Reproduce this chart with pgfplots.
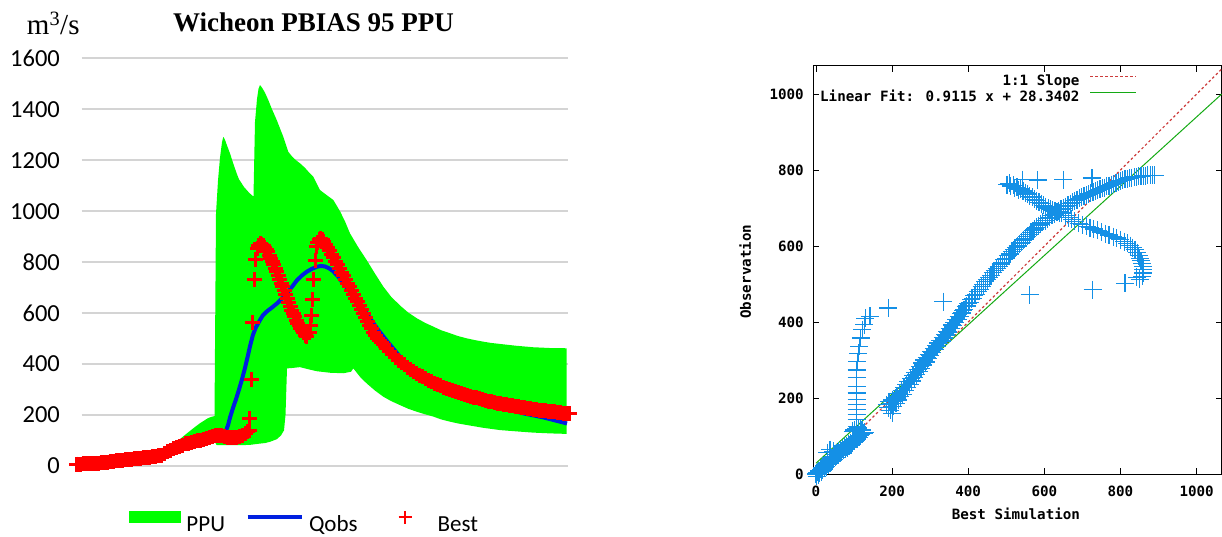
\documentclass[border=0pt]{standalone}
\usepackage{pgfplots}
\pgfplotsset{compat=1.18}
\usepackage{pgfplotstable}
\usepackage{fontspec}
\setmainfont{Carlito}
\newfontfamily\titlefont{Liberation Serif}
\newfontfamily\gmono{DejaVu Sans Mono}
\newcommand\gfont{\gmono\bfseries\fontsize{14.2pt}{16pt}\selectfont}
\definecolor{pgreen}{RGB}{0,255,0}
\definecolor{qblue}{RGB}{0,32,224}
\definecolor{bred}{RGB}{255,0,0}
\definecolor{sblue}{RGB}{20,144,230}
\definecolor{slred}{RGB}{205,60,60}
\definecolor{fitgreen}{RGB}{20,170,20}

% PPU band: upper edge left to right, then lower edge right to left
\pgfplotstableread{
x y
81.7 5
100 10
120 20
143 32
150 40
160 56
168 78
176.7 95
185 122
193.3 148
200 168
203.3 176
208 188
211.7 193
214.5 196
216 990
218 1120
220 1210
222 1270
223.3 1292
225 1280
227 1258
230 1227
233 1190
236.7 1148
239 1125
241.7 1109
244 1095
246.7 1083
249 1073
251.7 1063
253.5 1058
255 1350
257 1440
258.5 1480
260 1495
262 1485
265 1465
268.3 1436
272 1400
276.7 1358
280 1325
283.3 1292
288.3 1233
292 1215
296 1200
300 1188
305 1170
310 1148
313.3 1135
316.7 1109
320 1083
326 1065
333.3 1044
340 1000
345 960
350 913
358 860
366.7 808
375 755
383.3 704
391 665
400 630
408 603
416.7 580
425 562
433.3 547
441 533
450 521
458 510
466.7 501
475 494
483.3 488
491 483
500 479
516 472
533.3 466
550 463
566.7 462
566.7 126
550 128
533.3 131
516 136
500 141
483 150
466.7 161
458 167
450 174
441 183
433.3 194
425 203
416.7 213
408 225
400 239
391 255
383.3 272
375 296
366.7 324
360 350
355 375
353.3 383
351 370
343.3 364
330 366
316.7 372
308 380
300 388
293 385
287 383
285.5 200
284 140
281 120
276.7 105
270 95
265 90
260 88
250 83
243 82
230 82
216.7 82
214 100
210 108
205 102
200 93
193 85
186 76
180 64
173 52
166 43
160 36
150 30
140 25
130 20
120 16
110 12
100 7
90 3
81.7 0
}\ppu

\pgfplotstableread{
x y
81.7 6
90 7
100 10
110 16
120 21
130 26
140 31
150 35
160 40
165 50
170 62
175 72
180 79
185 86
190 93
195 98
200 102
205 107
210 113
215 118
220 122
225 128
228 160
230 190
233 228
236 262
239 300
242 340
245 385
248 435
250 470
253 515
256 545
260 573
263 592
267 607
272 622
277 638
282 657
287 679
292 703
297 729
302 748
307 763
312 774
317 782
321 785
325 783
329 776
333 765
338 744
343 718
348 695
353 670
358 645
363 620
368 592
373 563
378 535
383 510
388 485
393 462
398 438
403 412
408 392
413 376
418 362
423 350
428 338
433 327
438 317
443 308
448 300
453 292
458 285
463 278
468 271
473 265
478 259
483 253
488 247
493 241
498 235
503 228
508 222
513 217
518 212
523 207
528 203
533 199
538 195
543 191
548 186
553 181
558 176
563 171
567 167
}\qobs

\pgfplotstableread{
x y
77 7
80 7
83 8
86 8
89 9
92 9
95 10
98 11
101 12
104 13
107 15
110 18
113 19
116 20
119 21
122 22
125 24
128 25
131 27
134 28
137 30
140 31
143 33
146 34
149 35
152 36
155 38
158 40
161 43
164 48
167 55
170 62
173 68
176 74
179 78
182 82
185 87
188 90
191 94
194 97
197 100
200 102
203 105
206 108
209 112
212 116
215 119
218 121
221 120
224 117
227 112
230 110
233 110
236 111
239 114
242 118
245 126
247 134
249 141
249.5 187
251 340
252.7 562
254.3 733
255.3 812
257 855
258.5 867
260 872
261.5 870
263 864
264.5 858
266 850
267.5 840
269 828
270.5 815
272 802
273.5 790
275 776
276.5 762
278 746
279.5 733
281 718
282.5 703
284 688
285.5 672
287 657
288.5 642
290 627
291.5 612
293 598
294.5 585
296 572
297.5 560
299 550
300.5 540
302 530
303.5 522
305 514
306.5 508
309 525
310.7 553
311.7 590
312.3 654
313.3 733
315 805
316 861
317.5 878
319 888
320.5 893
322 889
323.5 880
325 871
327 858
329 845
331 831
333 817
335 803
337 789
339 775
341 761
343 747
345 733
347 718
349 703
351 688
353 673
355 659
357 646
359 630
361 614
363 598
365 583
367 568
369 553
371 539
373 525
375 513
377 502
379 491
381 483
383 475
386 462
389 449
392 437
395 426
398 416
401 406
404 397
407 388
410 380
413 372
416 364
419 357
422 350
425 343
428 337
431 331
434 325
437 320
440 315
443 310
446 305
449 300
452 296
455 292
458 288
461 284
464 280
467 276
470 273
473 270
476 267
479 264
482 261
485 258
488 255
491 252
494 250
497 247
500 245
503 243
506 241
509 239
512 237
515 235
518 233
521 231
524 229
527 227
530 225
533 223
536 221
539 219
542 218
545 216
548 215
551 213
554 212
557 211
560 210
563 208
566 207
569 205
}\best

\pgfplotstableread{
x y
0 0
2 -6
4 4
6 -2
8 8
10 3
12 12
14 6
16 16
18 10
20 20
22 15
25 25
27 19
30 30
32 24
35 36
37 29
40 42
42 34
45 46
47 39
50 52
52 44
55 56
57 49
60 60
62 54
65 63
67 58
70 66
72 62
75 70
77 65
80 74
82 69
85 78
87 73
90 82
92 77
95 86
97 82
100 90
102 86
105 94
108 92
110 98
113 97
116 101
119 104
122 106
125 108
128 110
96 112
101 116
106 120
111 121
116 118
121 116
30 56
37 64
45 60
107 125
107 143
107 156
107 169
107 182
107 196
107 213
107 231
107 253
107 274
109 296
111 318
114 336
118 358
122 380
127 393
130 410
142 415
190 437
334 454
186 182
190 175
192 190
195 168
198 185
200 160
200 195
203 178
205 192
208 200
210 186
213 205
216 195
219 212
222 203
225 220
228 210
231 228
234 220
237 236
240 228
243 244
246 236
249 252
252 245
255 260
258 253
261 268
264 261
267 276
270 270
273 284
276 278
279 292
282 287
285 300
288 295
291 307
294 303
297 315
300 311
303 323
306 319
309 330
312 327
315 338
318 335
321 345
324 343
327 352
330 350
333 360
336 358
339 368
342 366
345 376
348 374
351 384
354 382
357 392
360 391
363 399
366 399
369 407
372 407
375 415
378 415
381 423
384 424
387 431
390 433
393 440
396 442
400 449
404 452
408 460
412 462
416 470
420 473
425 481
430 486
435 494
440 498
445 506
450 511
455 518
460 523
465 530
470 535
475 542
480 546
485 553
490 557
495 564
500 568
505 575
510 579
515 586
520 590
525 596
530 600
535 606
540 610
545 616
550 620
555 626
560 630
565 636
570 640
575 645
580 649
585 654
590 658
596 663
602 667
608 672
614 676
620 681
626 684
632 689
638 692
644 697
650 699
656 704
662 707
668 712
674 715
680 719
686 722
692 726
698 729
704 732
710 734
716 737
722 739
728 742
734 744
740 747
746 749
752 752
758 754
764 757
770 759
776 762
782 764
788 767
794 769
800 772
806 773
812 776
818 777
824 779
830 780
836 782
842 782
848 784
854 784
860 785
866 785
872 786
878 786
884 786
890 786
502 762
508 765
512 758
518 760
522 752
528 755
532 748
538 750
544 745
550 740
556 737
562 731
568 729
574 723
580 719
586 715
592 712
598 707
604 703
610 700
616 697
622 694
628 692
634 690
640 688
646 687
656 680
664 675
672 670
680 665
690 660
700 656
711 652
720 648
730 645
740 641
750 637
760 633
770 629
781 625
790 621
800 617
810 612
818 607
826 601
832 596
838 590
844 583
848 575
851 568
854 561
857 554
859 546
860 538
860 529
857 520
850 512
542 775
583 774
650 775
725 779
562 472
727 485
812 502
843 518
}\scat

\begin{document}
\begin{tikzpicture}
\path[use as bounding box] (0pt,0pt) rectangle (1222pt,536pt);

% ---------------- left chart ----------------
\begin{axis}[
  at={(81.7pt,70pt)}, anchor=south west,
  scale only axis, width=486.6pt, height=407.7pt,
  xmin=81.7, xmax=568.3, ymin=0, ymax=1600,
  clip=false,
  axis line style={draw=none},
  xtick=\empty,
  ytick={0,200,...,1600},
  ymajorgrids,
  major grid style={draw=black!17, line width=2pt},
  major tick length=0pt,
  /pgf/number format/assume math mode=true,
  /pgf/number format/1000 sep={},
  yticklabel style={font=\fontsize{24.5pt}{26pt}\selectfont, inner sep=0pt, xshift=-21.6pt},
  legend columns=3,
  legend style={at={(axis description cs:0.0972,-0.1374)}, anchor=west,
    draw=none, fill=none, inner sep=0pt, outer sep=0pt,
    font=\fontsize{23pt}{25pt}\selectfont,
    nodes={inner sep=0pt},
    /tikz/every odd column/.append style={column sep=5.5pt},
    /tikz/every even column/.append style={column sep=20.5pt}},
]
\addplot[fill=pgreen, draw=none,
  legend image code/.code={\fill[pgreen] (0pt,1.3pt) rectangle (52pt,13.3pt);}]
  table {\ppu};
\addlegendentry{PPU}
\addplot[qblue, line width=4pt, no marks,
  legend image code/.code={\draw[qblue, line width=4pt] (0pt,7.3pt) -- (54pt,7.3pt);}]
  table {\qobs};
\addlegendentry{Qobs}
\addplot[bred, only marks, mark=+, mark size=7.5pt, line width=3pt,
  legend image code/.code={\path[draw=none] (0pt,0pt) -- (54pt,0pt);
    \path[draw=bred, line width=2pt] plot[mark=+, mark size=6.5pt] coordinates {(27pt,7.3pt)};}]
  table {\best};
\addlegendentry{Best}
\end{axis}

\node[anchor=base, font=\titlefont\bfseries\fontsize{27pt}{30pt}\selectfont, inner sep=0pt]
  at (313.5pt,504.5pt) {Wicheon PBIAS 95 PPU};
\node[anchor=base west, font=\titlefont\fontsize{29pt}{32pt}\selectfont, inner sep=0pt]
  at (26.8pt,501.8pt) {m\textsuperscript{3}/s};

% ---------------- right chart ----------------
\begin{axis}[
  at={(813.3pt,62pt)}, anchor=south west,
  scale only axis, width=408.4pt, height=408pt,
  xmin=-7, xmax=1066, ymin=0, ymax=1074,
  clip=false,
  axis line style={line width=1pt},
  every tick/.style={line width=0.9pt, black},
  major tick length=6pt,
  tick align=inside,
  xtick={0,200,...,1000}, ytick={0,200,...,1000},
  /pgf/number format/assume math mode=true,
  /pgf/number format/1000 sep={},
  ticklabel style={font=\gfont},
  xticklabel style={yshift=-8pt},
  yticklabel style={xshift=-6pt},
  xlabel={Best Simulation}, ylabel={Observation},
  label style={font=\gfont},
  xlabel style={at={(axis description cs:0.496,-0.0988)}, anchor=center},
  ylabel style={at={(axis description cs:-0.167,0.496)}, anchor=center, rotate=0},
  legend plot pos=right,
  legend cell align=right,
  legend style={at={(axis description cs:0.7919,0.978)}, anchor=north east,
    draw=none, fill=none, inner sep=0pt, outer sep=0pt,
    font=\gfont, row sep=3pt,
    nodes={inner sep=0pt},
    /tikz/every odd column/.append style={column sep=10pt}},
]
\addplot[sblue, only marks, mark=+, mark size=9pt, line width=1.2pt, forget plot]
  table {\scat};
\addplot[slred, line width=1.2pt, dash pattern=on 2.5pt off 2.5pt,
  legend image code/.code={\draw[slred, line width=1.2pt, dash pattern=on 2.5pt off 2.5pt] (0pt,4.5pt) -- (46pt,4.5pt);}]
  coordinates {(0,0) (1066,1066)};
\addlegendentry{1:1 Slope}
\addplot[fitgreen, line width=1pt,
  legend image code/.code={\draw[fitgreen, line width=1pt] (0pt,4.5pt) -- (46pt,4.5pt);}]
  coordinates {(0,28.3402) (1066,1000.0992)};
\addlegendentry{Linear Fit: 0.9115 x + 28.3402}
\end{axis}
\end{tikzpicture}
\end{document}
